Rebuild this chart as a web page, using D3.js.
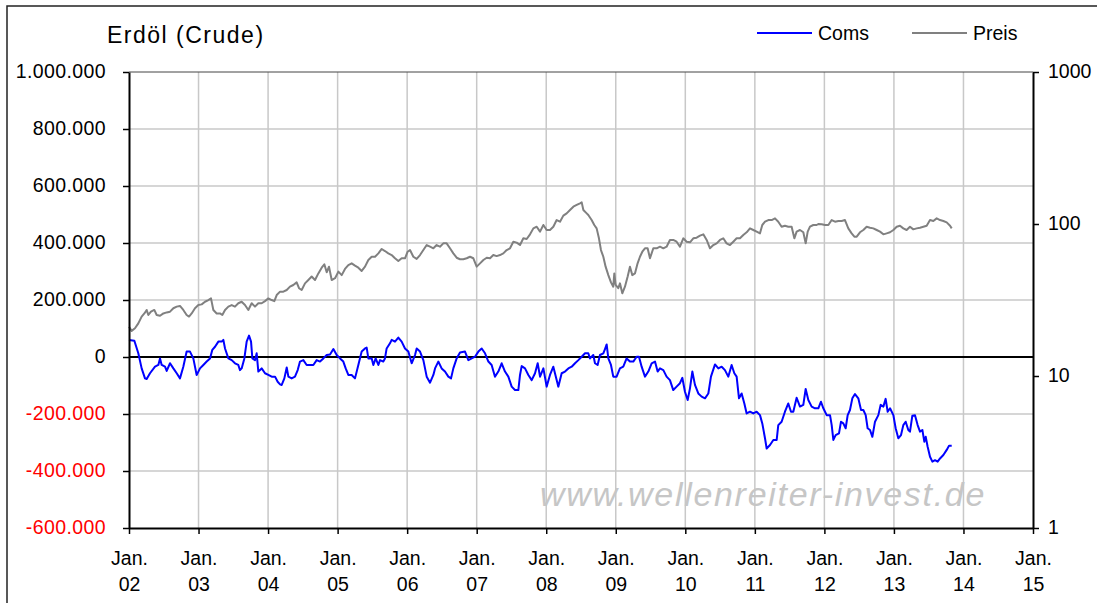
<!DOCTYPE html>
<html>
<head>
<meta charset="utf-8">
<title>Erdöl (Crude)</title>
<script src="https://cdnjs.cloudflare.com/ajax/libs/d3/7.8.5/d3.min.js"></script>
<style>
  body { margin: 0; background: #fff; }
  svg { display: block; font-family: "Liberation Sans", Arial, sans-serif; }
</style>
</head>
<body>
<svg width="1097" height="603"></svg>
<script>
// x ticks (January of each year), y ticks
var years = [2002, 2003, 2004, 2005, 2006, 2007, 2008, 2009, 2010, 2011, 2012, 2013, 2014, 2015];
var leftTicks = [-600000, -400000, -200000, 0, 200000, 400000, 600000, 800000, 1000000];
var rightTicks = [1, 10, 100, 1000];
var seriesNames = ["Coms", "Preis"];

// Commercials net position, [decimal year, contracts]
var coms = [
  [2002.000,60000],[2002.077,57000],[2002.134,13000],[2002.182,-40000],[2002.230,-75000],[2002.254,-77000],
  [2002.302,-57000],[2002.374,-34000],[2002.422,-28000],[2002.446,-5000],[2002.470,-28000],[2002.518,-34000],
  [2002.542,-49000],[2002.590,-22000],[2002.638,-40000],[2002.686,-57000],[2002.733,-75000],[2002.781,-34000],
  [2002.829,19000],[2002.877,19000],[2002.925,-5000],[2002.973,-63000],[2003.021,-40000],[2003.069,-28000],
  [2003.117,-16000],[2003.165,-5000],[2003.198,25000],[2003.237,36000],[2003.285,54000],[2003.333,54000],
  [2003.357,60000],[2003.381,30000],[2003.429,-5000],[2003.477,-11000],[2003.524,-22000],[2003.572,-28000],
  [2003.596,-46000],[2003.620,-40000],[2003.659,-5000],[2003.692,54000],[2003.726,75000],[2003.755,54000],
  [2003.774,-5000],[2003.812,-11000],[2003.836,13000],[2003.860,-51000],[2003.908,-40000],[2003.956,-57000],
  [2004.004,-63000],[2004.052,-69000],[2004.100,-69000],[2004.138,-87000],[2004.172,-96000],[2004.196,-98000],
  [2004.234,-75000],[2004.268,-37000],[2004.292,-69000],[2004.339,-75000],[2004.387,-69000],[2004.426,-46000],
  [2004.459,-16000],[2004.507,-11000],[2004.555,-28000],[2004.603,-28000],[2004.651,-28000],[2004.699,-11000],
  [2004.747,-16000],[2004.795,-5000],[2004.843,7000],[2004.891,9000],[2004.939,28000],[2004.987,7000],
  [2005.035,-5000],[2005.082,-16000],[2005.116,-40000],[2005.154,-63000],[2005.202,-63000],[2005.250,-75000],
  [2005.298,-28000],[2005.346,19000],[2005.394,30000],[2005.418,33000],[2005.442,-5000],[2005.490,-5000],
  [2005.514,-28000],[2005.547,-5000],[2005.586,-28000],[2005.610,-11000],[2005.657,-16000],[2005.681,-5000],
  [2005.705,30000],[2005.753,48000],[2005.777,60000],[2005.825,54000],[2005.873,68000],[2005.921,54000],
  [2005.969,30000],[2006.017,19000],[2006.065,-22000],[2006.113,7000],[2006.137,30000],[2006.185,19000],
  [2006.233,-11000],[2006.281,-69000],[2006.329,-90000],[2006.377,-63000],[2006.401,-40000],[2006.448,-16000],
  [2006.496,-40000],[2006.544,-51000],[2006.592,-69000],[2006.631,-75000],[2006.664,-40000],[2006.712,-5000],
  [2006.760,16000],[2006.832,19000],[2006.880,-11000],[2006.928,-5000],[2006.976,1000],[2007.024,19000],
  [2007.072,30000],[2007.120,13000],[2007.168,-16000],[2007.215,-28000],[2007.263,-69000],[2007.311,-51000],
  [2007.359,-22000],[2007.407,-51000],[2007.455,-69000],[2007.503,-104000],[2007.551,-116000],[2007.599,-116000],
  [2007.623,-63000],[2007.647,-32000],[2007.695,-40000],[2007.743,-63000],[2007.791,-81000],[2007.839,-57000],
  [2007.877,-22000],[2007.911,-69000],[2007.959,-40000],[2008.006,-104000],[2008.054,-63000],[2008.102,-34000],
  [2008.150,-81000],[2008.174,-104000],[2008.222,-57000],[2008.270,-51000],[2008.318,-40000],[2008.366,-34000],
  [2008.414,-22000],[2008.462,-11000],[2008.510,1000],[2008.558,13000],[2008.605,13000],[2008.629,-5000],
  [2008.677,7000],[2008.701,-22000],[2008.739,-28000],[2008.773,7000],[2008.821,13000],[2008.845,28000],
  [2008.869,44000],[2008.893,-5000],[2008.931,-28000],[2008.964,-69000],[2009.012,-69000],[2009.060,-40000],
  [2009.108,-34000],[2009.156,-5000],[2009.204,-16000],[2009.252,-16000],[2009.300,1000],[2009.334,1000],
  [2009.372,-34000],[2009.420,-69000],[2009.468,-51000],[2009.516,-22000],[2009.564,-16000],[2009.602,-51000],
  [2009.636,-40000],[2009.684,-46000],[2009.731,-69000],[2009.779,-81000],[2009.827,-116000],[2009.875,-104000],
  [2009.923,-92000],[2009.957,-73000],[2009.995,-122000],[2010.034,-151000],[2010.067,-110000],[2010.101,-51000],
  [2010.139,-98000],[2010.187,-128000],[2010.235,-139000],[2010.283,-145000],[2010.331,-128000],[2010.369,-69000],
  [2010.427,-26000],[2010.475,-40000],[2010.523,-34000],[2010.570,-46000],[2010.618,-69000],[2010.666,-28000],
  [2010.705,-57000],[2010.738,-69000],[2010.772,-145000],[2010.810,-128000],[2010.849,-163000],[2010.882,-198000],
  [2010.930,-192000],[2010.978,-198000],[2011.026,-192000],[2011.074,-204000],[2011.107,-233000],[2011.146,-285000],
  [2011.170,-321000],[2011.218,-309000],[2011.266,-291000],[2011.314,-291000],[2011.337,-239000],[2011.385,-227000],
  [2011.433,-192000],[2011.481,-163000],[2011.520,-192000],[2011.553,-192000],[2011.601,-143000],[2011.649,-174000],
  [2011.697,-168000],[2011.731,-112000],[2011.769,-151000],[2011.817,-174000],[2011.865,-180000],[2011.913,-180000],
  [2011.951,-157000],[2011.985,-180000],[2012.033,-204000],[2012.081,-204000],[2012.105,-239000],[2012.129,-291000],
  [2012.162,-274000],[2012.210,-268000],[2012.239,-227000],[2012.272,-233000],[2012.306,-250000],[2012.335,-204000],
  [2012.368,-186000],[2012.402,-145000],[2012.440,-130000],[2012.488,-145000],[2012.527,-186000],[2012.560,-186000],
  [2012.594,-204000],[2012.622,-250000],[2012.656,-256000],[2012.690,-280000],[2012.728,-227000],[2012.776,-204000],
  [2012.809,-168000],[2012.848,-174000],[2012.881,-147000],[2012.910,-192000],[2012.944,-180000],[2012.992,-204000],
  [2013.025,-250000],[2013.063,-285000],[2013.102,-274000],[2013.135,-239000],[2013.169,-227000],[2013.207,-256000],
  [2013.231,-262000],[2013.265,-206000],[2013.303,-204000],[2013.341,-239000],[2013.375,-262000],[2013.409,-256000],
  [2013.437,-297000],[2013.457,-280000],[2013.485,-315000],[2013.519,-350000],[2013.553,-367000],[2013.591,-362000],
  [2013.629,-367000],[2013.663,-356000],[2013.711,-344000],[2013.759,-326000],[2013.793,-311000],[2013.831,-311000]
];

// Crude oil price in USD, [decimal year, price]
var preis = [
  [2002.000,21.1],[2002.038,19.8],[2002.086,20.6],[2002.134,22.2],[2002.182,24.6],[2002.221,25.8],[2002.254,27.2],
  [2002.278,25.2],[2002.316,26.5],[2002.364,27.2],[2002.398,25.2],[2002.446,24.9],[2002.494,25.8],[2002.542,26.2],
  [2002.590,26.5],[2002.638,27.9],[2002.686,28.6],[2002.733,28.9],[2002.781,27.2],[2002.829,25.2],[2002.863,24.6],
  [2002.901,25.8],[2002.949,27.9],[2002.997,29.3],[2003.045,29.6],[2003.093,30.8],[2003.141,31.6],[2003.179,32.4],
  [2003.213,27.2],[2003.261,25.8],[2003.309,25.8],[2003.342,25.2],[2003.381,27.2],[2003.429,28.6],[2003.477,29.3],
  [2003.524,28.6],[2003.572,30.1],[2003.620,30.8],[2003.668,29.3],[2003.716,27.2],[2003.764,30.1],[2003.812,28.6],
  [2003.860,30.1],[2003.908,30.1],[2003.956,31.1],[2004.004,32.4],[2004.052,31.6],[2004.090,31.1],[2004.124,34.1],
  [2004.172,35.9],[2004.220,35.9],[2004.268,36.8],[2004.315,38.7],[2004.363,39.7],[2004.411,41.3],[2004.445,37.8],
  [2004.483,36.8],[2004.531,40.7],[2004.579,42.8],[2004.627,45.1],[2004.675,42.8],[2004.723,47.3],[2004.771,51.6],
  [2004.809,54.3],[2004.843,48.1],[2004.876,52.4],[2004.915,42.8],[2004.963,44.0],[2005.011,48.6],[2005.059,46.1],
  [2005.106,50.6],[2005.154,53.7],[2005.202,55.1],[2005.250,53.2],[2005.298,51.6],[2005.346,49.1],[2005.394,52.4],
  [2005.442,58.0],[2005.490,60.9],[2005.538,60.9],[2005.586,64.1],[2005.634,68.5],[2005.681,66.4],[2005.729,64.1],
  [2005.777,62.5],[2005.825,59.5],[2005.873,57.1],[2005.921,59.5],[2005.969,59.5],[2006.007,65.7],[2006.041,67.4],
  [2006.089,60.9],[2006.137,58.9],[2006.185,62.5],[2006.233,67.4],[2006.281,72.7],[2006.329,70.9],[2006.377,69.2],
  [2006.424,72.7],[2006.472,70.9],[2006.520,74.6],[2006.568,74.6],[2006.616,69.2],[2006.664,64.1],[2006.712,60.0],
  [2006.760,58.6],[2006.808,58.6],[2006.856,59.5],[2006.904,60.9],[2006.952,59.5],[2007.000,52.4],[2007.048,55.1],
  [2007.096,58.0],[2007.144,60.0],[2007.192,59.5],[2007.239,62.5],[2007.287,61.5],[2007.335,62.5],[2007.383,64.1],
  [2007.431,67.4],[2007.479,69.2],[2007.527,76.5],[2007.575,75.4],[2007.623,72.7],[2007.671,80.5],[2007.719,79.7],
  [2007.767,85.5],[2007.815,93.6],[2007.863,96.0],[2007.911,89.1],[2007.959,98.5],[2008.006,91.3],[2008.054,91.3],
  [2008.102,96.0],[2008.150,106.2],[2008.198,103.5],[2008.246,113.5],[2008.294,117.5],[2008.342,123.6],[2008.390,130.0],
  [2008.438,133.4],[2008.486,136.8],[2008.510,138.8],[2008.534,123.6],[2008.582,117.5],[2008.605,114.6],[2008.653,106.2],
  [2008.691,98.5],[2008.725,93.6],[2008.758,80.5],[2008.787,67.4],[2008.821,60.9],[2008.854,52.4],[2008.893,46.1],
  [2008.931,41.3],[2008.964,38.7],[2008.979,47.3],[2008.998,39.7],[2009.036,37.8],[2009.060,40.7],[2009.094,35.0],
  [2009.132,38.7],[2009.171,45.1],[2009.204,52.4],[2009.238,46.1],[2009.276,47.3],[2009.314,55.1],[2009.348,60.9],
  [2009.382,65.7],[2009.420,69.2],[2009.458,69.2],[2009.492,59.5],[2009.540,69.2],[2009.588,69.2],[2009.636,70.9],
  [2009.684,69.2],[2009.731,70.9],[2009.779,78.5],[2009.827,78.5],[2009.875,76.5],[2009.923,70.9],[2009.971,80.5],
  [2010.019,76.5],[2010.067,75.8],[2010.115,80.5],[2010.163,81.3],[2010.211,83.8],[2010.259,85.5],[2010.307,78.5],
  [2010.355,69.2],[2010.403,72.7],[2010.451,74.6],[2010.499,78.5],[2010.546,80.5],[2010.594,74.6],[2010.642,72.7],
  [2010.690,76.5],[2010.738,80.5],[2010.786,80.5],[2010.834,84.7],[2010.882,88.2],[2010.930,93.6],[2010.978,91.3],
  [2011.026,89.1],[2011.074,86.8],[2011.107,98.5],[2011.146,103.5],[2011.194,106.2],[2011.242,106.2],[2011.290,108.9],
  [2011.337,103.5],[2011.385,96.0],[2011.433,97.5],[2011.481,96.0],[2011.529,96.0],[2011.568,80.5],[2011.601,89.1],
  [2011.649,91.3],[2011.697,88.2],[2011.731,74.6],[2011.760,89.1],[2011.793,96.0],[2011.841,98.5],[2011.889,98.5],
  [2011.913,100.0],[2011.961,99.5],[2012.009,98.5],[2012.057,98.5],[2012.105,106.2],[2012.153,103.5],[2012.201,104.6],
  [2012.249,104.6],[2012.296,106.2],[2012.344,93.6],[2012.392,86.8],[2012.431,82.5],[2012.465,82.5],[2012.512,88.2],
  [2012.560,91.3],[2012.608,96.0],[2012.656,94.6],[2012.704,93.6],[2012.752,91.3],[2012.800,89.1],[2012.848,85.5],
  [2012.896,86.8],[2012.944,88.2],[2012.992,91.3],[2013.040,96.0],[2013.087,97.5],[2013.135,93.6],[2013.183,91.3],
  [2013.231,96.0],[2013.279,92.2],[2013.327,93.6],[2013.375,94.6],[2013.423,96.0],[2013.471,97.5],[2013.519,106.2],
  [2013.567,104.6],[2013.615,108.9],[2013.663,106.2],[2013.711,104.6],[2013.759,102.5],[2013.807,97.5],[2013.831,93.6]
];

var svg = d3.select("svg"),
    margin = {top: 72, right: 64, bottom: 75, left: 129},
    width = +svg.attr("width") - margin.left - margin.right,
    height = +svg.attr("height") - margin.top - margin.bottom;

svg.append("rect").attr("width", 1097).attr("height", 603).attr("fill", "#fff");
// chart frame, runs off the right and bottom edge
svg.append("rect")
    .attr("x", 7).attr("y", 6).attr("width", 1200).attr("height", 700)
    .attr("fill", "none").attr("stroke", "#222").attr("stroke-width", 1.5);

var g = svg.append("g").attr("transform", `translate(${margin.left},${margin.top})`);

var de = d3.formatLocale({decimal: ",", thousands: ".", grouping: [3], currency: ["", " €"], minus: "-"});
var fmt = de.format(",");

var x = d3.scaleLinear().domain([years[0], years[years.length - 1]]).range([0, width]);
var yL = d3.scaleLinear().domain([-600000, 1000000]).range([height, 0]);
var yR = d3.scaleLog().domain([1, 1000]).range([height, 0]);

// grid
g.append("g").selectAll("line")
    .data(leftTicks.filter(d => d !== 0 && d !== -600000 && d !== 1000000))
    .enter().append("line")
    .attr("x1", 0).attr("x2", width)
    .attr("y1", d => yL(d)).attr("y2", d => yL(d))
    .attr("stroke", "#c8c8c8").attr("stroke-width", 1.5);
g.append("g").selectAll("line")
    .data(years.slice(1, -1))
    .enter().append("line")
    .attr("x1", d => x(d)).attr("x2", d => x(d))
    .attr("y1", 0).attr("y2", height)
    .attr("stroke", "#c8c8c8").attr("stroke-width", 1.5);
g.append("line")
    .attr("x1", 0).attr("x2", width)
    .attr("y1", yL(1000000)).attr("y2", yL(1000000))
    .attr("stroke", "#444").attr("stroke-width", 1);

// watermark
g.append("text")
    .attr("x", 411).attr("y", 434)
    .attr("font-size", 34).attr("font-style", "italic")
    .attr("letter-spacing", 1.7)
    .attr("fill", "#c6c6c6")
    .text("www.wellenreiter-invest.de");

// zero line
g.append("line")
    .attr("x1", 0).attr("x2", width)
    .attr("y1", yL(0)).attr("y2", yL(0))
    .attr("stroke", "#000").attr("stroke-width", 2);

// series
g.append("path").datum(preis)
    .attr("fill", "none").attr("stroke", "#808080").attr("stroke-width", 2)
    .attr("stroke-linejoin", "round")
    .attr("d", d3.line().x(d => x(d[0])).y(d => yR(d[1])));
g.append("path").datum(coms)
    .attr("fill", "none").attr("stroke", "#0000ff").attr("stroke-width", 2)
    .attr("stroke-linejoin", "round")
    .attr("d", d3.line().x(d => x(d[0])).y(d => yL(d[1])));

// axes
function styleAxis(a) {
    a.attr("font-size", 19.5).attr("font-family", null);
    a.select(".domain").attr("stroke", "#000").attr("stroke-width", 2);
    a.selectAll(".tick line").attr("stroke", "#000").attr("stroke-width", 1.5);
    a.selectAll("text").attr("fill", "#000");
}
var ax = g.append("g")
    .call(d3.axisLeft(yL).tickValues(leftTicks).tickFormat(fmt).tickSize(6).tickSizeOuter(0).tickPadding(17));
styleAxis(ax);
ax.selectAll("text").attr("fill", d => d < 0 ? "#ff0000" : "#000").attr("dy", "0.3em").attr("letter-spacing", 0.4);

var ar = g.append("g").attr("transform", `translate(${width},0)`)
    .call(d3.axisRight(yR).tickValues(rightTicks).tickFormat(d3.format("d")).tickSize(6).tickSizeOuter(0).tickPadding(9));
styleAxis(ar);
ar.selectAll("text").attr("dy", "0.3em");

var ab = g.append("g").attr("transform", `translate(0,${height})`)
    .call(d3.axisBottom(x).tickValues(years).tickFormat("").tickSize(6).tickSizeOuter(0));
styleAxis(ab);
ab.selectAll(".tick").each(function(d) {
    var t = d3.select(this).append("text")
        .attr("text-anchor", "middle").attr("fill", "#000");
    t.append("tspan").attr("x", 0).attr("y", 37).text("Jan.");
    t.append("tspan").attr("x", 0).attr("y", 63).text(String(d).slice(2));
});

// title
svg.append("text")
    .attr("x", 107).attr("y", 43)
    .attr("font-size", 23).attr("letter-spacing", 1.5)
    .text("Erdöl (Crude)");

// legend
var legend = svg.append("g").attr("font-size", 19.5);
[["#0000ff", 757], ["#808080", 912]].forEach(function(p, i) {
    legend.append("line")
        .attr("x1", p[1]).attr("x2", p[1] + 55)
        .attr("y1", 33).attr("y2", 33)
        .attr("stroke", p[0]).attr("stroke-width", 2);
    legend.append("text")
        .attr("x", p[1] + 61).attr("y", 40)
        .text(seriesNames[i]);
});
</script>
</body>
</html>
